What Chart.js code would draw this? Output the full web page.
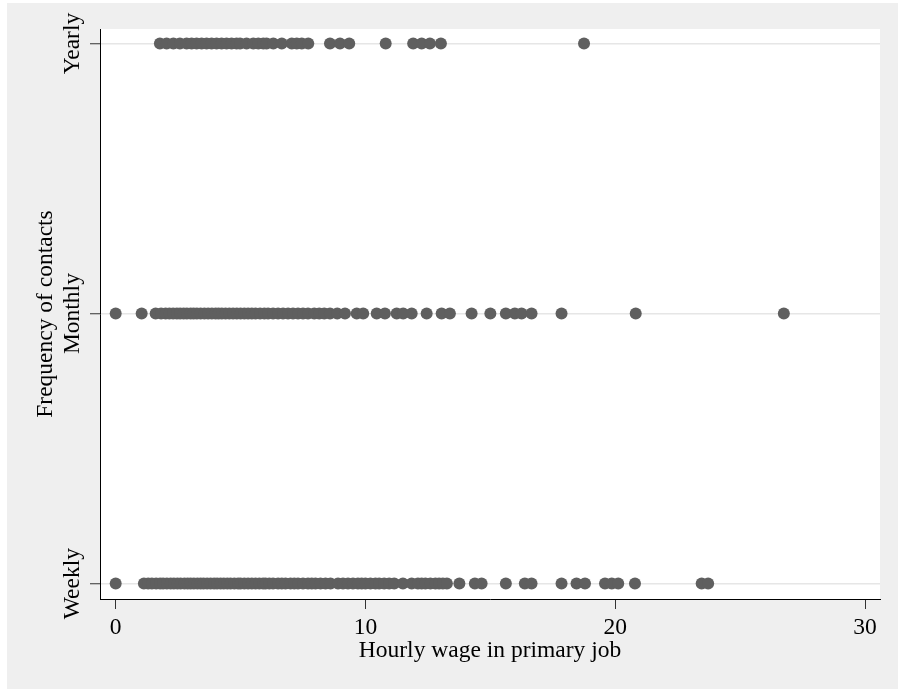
<!DOCTYPE html>
<html>
<head>
<meta charset="utf-8">
<title>Frequency of contacts by hourly wage</title>
<script src="https://cdn.jsdelivr.net/npm/chart.js@4.4.1/dist/chart.umd.min.js"></script>
<style>
  html, body { margin: 0; padding: 0; background: #ffffff; }
  canvas { display: block; }
</style>
</head>
<body>
<canvas id="chart" width="898" height="689"></canvas>
<script>
// Categories of the y axis, bottom to top (plotted at 1, 2, 3)
const categories = ["Weekly", "Monthly", "Yearly"];

// Hourly wage in primary job, one list per contact frequency
const weeklyWages = [
  0, 1.13, 1.3, 1.45, 1.62, 1.78, 1.9, 2.05, 2.2, 2.33, 2.47, 2.6, 2.75, 2.88,
  3.0, 3.13, 3.27, 3.4, 3.52, 3.66, 3.8, 3.94, 4.06, 4.2, 4.33, 4.47, 4.6, 4.75,
  4.9, 5.0, 5.15, 5.3, 5.45, 5.6, 5.75, 5.9, 6.0, 6.15, 6.3, 6.5, 6.65, 6.8, 7.0,
  7.15, 7.3, 7.5, 7.7, 7.85, 8.0, 8.2, 8.4, 8.6, 8.9, 9.1, 9.3, 9.5, 9.7, 9.85,
  10.0, 10.2, 10.4, 10.55, 10.75, 10.95, 11.15, 11.5, 11.85, 12.1, 12.25, 12.4,
  12.6, 12.8, 12.95, 13.1, 13.26, 13.76, 14.38, 14.65, 15.62, 16.38, 16.65,
  17.85, 18.45, 18.79, 19.59, 19.86, 20.12, 20.79, 23.46, 23.72,
];
const monthlyWages = [
  0, 1.04, 1.6, 1.82, 2.0, 2.15, 2.3, 2.45, 2.58, 2.72, 2.85, 3.0, 3.12, 3.25,
  3.4, 3.55, 3.7, 3.85, 4.0, 4.12, 4.25, 4.4, 4.55, 4.7, 4.85, 5.0, 5.15, 5.3,
  5.45, 5.6, 5.78, 5.95, 6.1, 6.3, 6.5, 6.7, 6.9, 7.1, 7.3, 7.5, 7.7, 7.95, 8.15,
  8.35, 8.58, 8.87, 9.18, 9.65, 9.91, 10.45, 10.78, 11.25, 11.51, 11.85, 12.45,
  13.05, 13.38, 14.25, 15.0, 15.62, 15.98, 16.25, 16.65, 17.85, 20.82, 26.75,
];
const yearlyWages = [
  1.77, 2.04, 2.31, 2.57, 2.84, 3.04, 3.24, 3.44, 3.64, 3.84, 4.04, 4.24, 4.44,
  4.64, 4.84, 4.98, 5.24, 5.51, 5.71, 5.91, 6.04, 6.31, 6.65, 7.05, 7.25, 7.45,
  7.71, 8.58, 8.98, 9.35, 10.81, 11.91, 12.25, 12.58, 13.02, 18.75,
];

// Tick values
const xTicks = [0, 10, 20, 30];
const yTicks = [1, 2, 3];

const FONT = { family: "'Liberation Serif', 'Times New Roman', serif", size: 23.5, lineHeight: 1.2 };
const MARKER = "#5f5f5f";

/**
 * Build {x, y} points for one category
 */
const toPoints = (wages, level) => wages.map((w) => ({ x: w, y: level }));

const points = [
  ...toPoints(weeklyWages, 1),
  ...toPoints(monthlyWages, 2),
  ...toPoints(yearlyWages, 3),
];

/**
 * Grey page background with a white plot region (Stata-like look)
 */
const backgroundPlugin = {
  id: "stataBackground",
  beforeDraw(chart) {
    const { ctx, chartArea } = chart;
    ctx.save();
    ctx.fillStyle = "#ffffff";
    ctx.fillRect(0, 0, chart.width, chart.height);
    ctx.fillStyle = "#efefef";
    ctx.fillRect(7, 3, chart.width - 7, chart.height - 3);
    ctx.fillStyle = "#ffffff";
    ctx.fillRect(chartArea.left, chartArea.top, chartArea.right - chartArea.left, chartArea.bottom - chartArea.top);
    ctx.restore();
  },
};

new Chart(document.getElementById("chart"), {
  type: "scatter",
  data: {
    datasets: [
      {
        data: points,
        backgroundColor: MARKER,
        borderWidth: 0,
        pointRadius: 6,
        pointHoverRadius: 6,
      },
    ],
  },
  options: {
    responsive: false,
    animation: false,
    events: [],
    layout: { padding: { top: 29, right: 18, left: 0, bottom: 0 } },
    plugins: {
      legend: { display: false },
      tooltip: { enabled: false },
    },
    scales: {
      x: {
        type: "linear",
        min: -0.628,
        max: 30.6,
        afterBuildTicks: (scale) => {
          scale.ticks = xTicks.map((v) => ({ value: v }));
        },
        afterFit: (scale) => {
          scale.height = 90;
        },
        grid: {
          drawOnChartArea: false,
          drawTicks: true,
          tickLength: 10,
          tickColor: "#333333",
          tickWidth: 1,
        },
        border: { color: "#000000", width: 1 },
        ticks: {
          color: "#000000",
          font: FONT,
          padding: 5,
          maxRotation: 0,
          autoSkip: false,
        },
        title: {
          display: true,
          text: "Hourly wage in primary job",
          color: "#000000",
          font: FONT,
          padding: { top: 0, bottom: 24.5 },
        },
      },
      y: {
        type: "linear",
        min: 0.943,
        max: 3.054,
        afterBuildTicks: (scale) => {
          scale.ticks = yTicks.map((v) => ({ value: v }));
        },
        afterFit: (scale) => {
          scale.width = 100;
        },
        grid: {
          color: "#e6e6e6",
          lineWidth: 1.5,
          drawTicks: true,
          tickLength: 10,
          tickColor: "#333333",
          tickWidth: 1,
        },
        border: { color: "#000000", width: 1 },
        ticks: {
          color: "#000000",
          font: FONT,
          minRotation: 90,
          maxRotation: 90,
          crossAlign: "center",
          padding: -23.5,
          autoSkip: false,
          callback: (value) => categories[value - 1] || "",
        },
        title: {
          display: true,
          text: "Frequency of contacts",
          color: "#000000",
          font: FONT,
          padding: { top: 32, bottom: 0 },
        },
      },
    },
  },
  plugins: [backgroundPlugin],
});
</script>
</body>
</html>
